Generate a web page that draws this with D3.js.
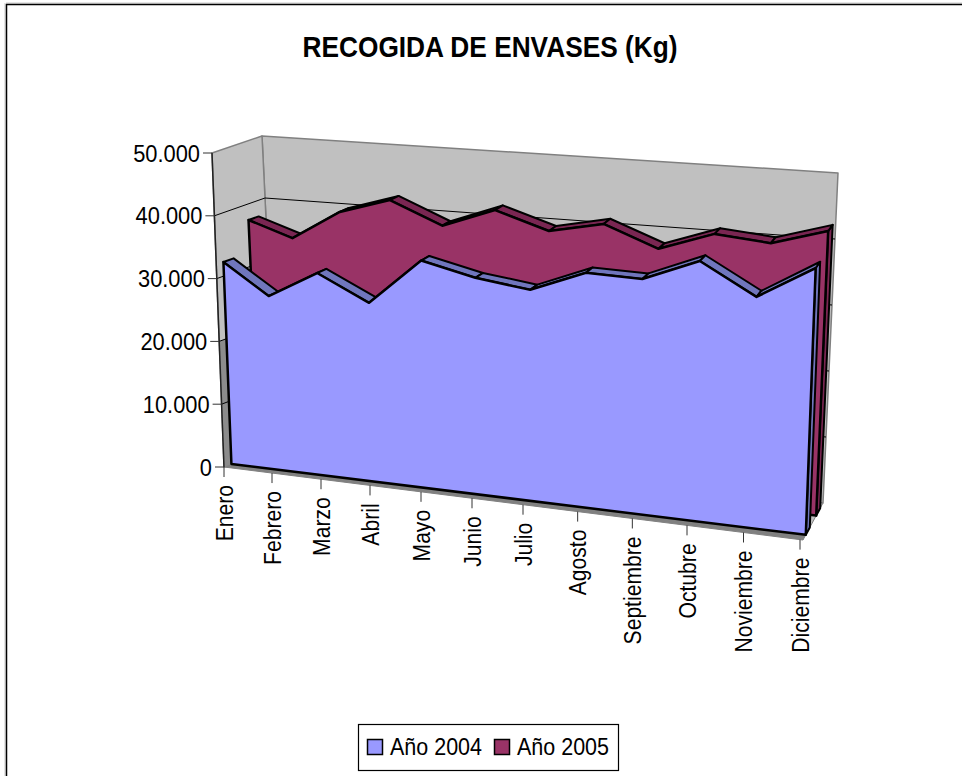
<!DOCTYPE html>
<html><head><meta charset="utf-8">
<script src="https://cdn.jsdelivr.net/npm/d3@7"></script>
<style>html,body{margin:0;padding:0;background:#fff}svg{display:block}text{font-family:"Liberation Sans",Arial,sans-serif;fill:#000}</style>
</head><body><svg id="c" width="962" height="776"></svg>
<script>
const months=["Enero","Febrero","Marzo","Abril","Mayo","Junio","Julio","Agosto","Septiembre","Octubre","Noviembre","Diciembre"];
const valuesA=[32230,27500,31900,28000,35400,33500,32450,35850,35700,39200,34600,39700];
const valuesB=[37440,35100,39900,42400,39000,42100,39500,41250,38100,41050,40300,42800];
const tickValues=[0,10000,20000,30000,40000,50000];
const tickLabels=["0","10.000","20.000","30.000","40.000","50.000"];
const seriesNames=["Año 2004","Año 2005"];
const colors=[{face:"#9999ff",top:"#7076bd"},{face:"#993366",top:"#7a2652"}];
const depths=[[.14,.34],[.66,.86]];

const svg=d3.select("#c");
const xS=d3.scalePow().exponent(1.08).domain([0,11]).range([0,1]);
const yS=d3.scaleLinear().domain([0,50000]).range([0,1]);
// category tick positions along the front edge of the floor
const tickX=d3.scaleLinear().domain([0,1,3,6,9,11]).range([224,272,370,523,687,800]);
const edgeY=d3.scaleLinear().domain([224,803]).range([467,540]);
const C={f0l:[224,467],f1l:[212,153],f0r:[803,540],f1r:[815,203],b0l:[277,446],b1l:[262,136],b0r:[823,503],b1r:[838,173]};
const lerp=(a,b,t)=>[a[0]+(b[0]-a[0])*t,a[1]+(b[1]-a[1])*t];
function P(i,val,w){
  const u=xS(i),v=yS(val);
  const f=lerp(lerp(C.f0l,C.f0r,u),lerp(C.f1l,C.f1r,u),v);
  const b=lerp(lerp(C.b0l,C.b0r,u),lerp(C.b1l,C.b1r,u),v);
  return lerp(f,b,w);
}
const line=d3.line();
const poly=(pts,fill,stroke,sw)=>svg.append("path").attr("d",line(pts)+"Z").attr("fill",fill).attr("stroke",stroke||"none").attr("stroke-width",sw||0).attr("stroke-linejoin","round");
const seg=(a,b,stroke,sw)=>svg.append("line").attr("x1",a[0]).attr("y1",a[1]).attr("x2",b[0]).attr("y2",b[1]).attr("stroke",stroke).attr("stroke-width",sw);

// frame: only top and left edges are in the picture
seg([6,3],[962,3],"#c8c8c8",1);
seg([5,3],[5,776],"#c8c8c8",1);
seg([6,4.5],[962,4.5],"#000",1.5);
seg([6.5,4],[6.5,776],"#000",1.5);

// title
svg.append("text").attr("x",490).attr("y",57).attr("text-anchor","middle").attr("font-size",30).attr("font-weight","bold").attr("textLength",375).attr("lengthAdjust","spacingAndGlyphs").text("RECOGIDA DE ENVASES (Kg)");

// walls
poly([P(0,0,1),P(11,0,1),P(11,50000,1),P(0,50000,1)],"#c0c0c0","#808080",1.5);
poly([P(0,0,0),P(0,0,1),P(0,50000,1),P(0,50000,0)],"#c0c0c0","#808080",1.5);
poly([P(0,0,0),P(11,0,0),P(11,0,1),P(0,0,1)],"#c0c0c0","#808080",1);
poly([P(0,0,0),P(11,0,0),P(11,0,.14),P(0,0,.14)],"#808080");
poly([P(0,0,0),P(0,0,.14),P(0,tickValues[2],.14),P(0,tickValues[2],0)],"#8c8c8c");
// gridlines
tickValues.slice(1,-1).forEach(t=>{
  svg.append("path").attr("d",line([P(0,t,0),P(0,t,1),P(11,t,1)])).attr("fill","none").attr("stroke","#000").attr("stroke-width",1);
});
// value axis
seg(P(0,0,0),P(0,50000,0),"#222",1.5);
tickValues.forEach((t,k)=>{
  const p=P(0,t,0);
  seg([p[0]-9,p[1]],p,"#333",1);
  svg.append("text").attr("transform",`translate(${p[0]-12},${p[1]+8.5}) scale(.91,1)`).attr("text-anchor","end").attr("font-size",24).text(tickLabels[k]);
});
// category axis
months.forEach((m,i)=>{
  const x=tickX(i),y=edgeY(x);
  seg([x,y],[x,y+10],"#333",1);
  svg.append("text").attr("transform",`translate(${x+8.5},${y+18}) rotate(-90) scale(.88,1)`).attr("text-anchor","end").attr("font-size",24).text(m);
});

// series, back to front
[[valuesB,1],[valuesA,0]].forEach(([vals,s])=>{
  const [w1,w2]=depths[s],col=colors[s],n=vals.length-1;
  poly([P(n,0,w1),P(n,vals[n],w1),P(n,vals[n],w2),P(n,0,w2)],col.top,"#000",2);
  vals.slice(0,-1).forEach((v,i)=>{
    poly([P(i,v,w1),P(i+1,vals[i+1],w1),P(i+1,vals[i+1],w2),P(i,v,w2)],col.top,"#000",2);
  });
  const top=vals.map((v,i)=>P(i,v,w1));
  poly([P(0,0,w1),...top,P(n,0,w1)],col.face,"#000",2.5);
});

// legend
svg.append("rect").attr("x",358.5).attr("y",724.5).attr("width",260).attr("height",46).attr("fill","#fff").attr("stroke","#000").attr("stroke-width",1.2);
const legendX=d3.scaleOrdinal().domain(seriesNames).range([367,494]);
seriesNames.forEach((nm,s)=>{
  const x=legendX(nm);
  svg.append("rect").attr("x",x+.5).attr("y",739.5).attr("width",15).attr("height",15).attr("fill",colors[s].face).attr("stroke","#000").attr("stroke-width",1.5);
  svg.append("text").attr("x",x+23).attr("y",755).attr("font-size",24).attr("textLength",92).attr("lengthAdjust","spacingAndGlyphs").text(nm);
});
</script></body></html>
